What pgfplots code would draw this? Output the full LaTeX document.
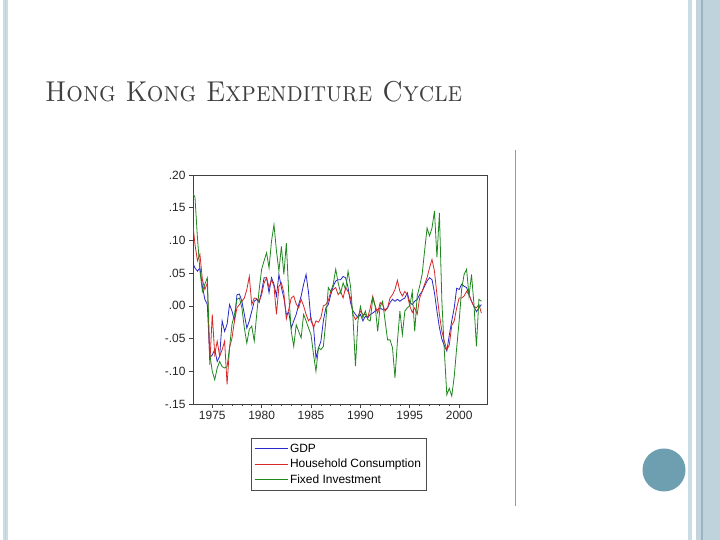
\documentclass[border=0pt]{standalone}
\usepackage{fontspec}
\usepackage{pgfplots}
\pgfplotsset{compat=1.18}
\usepackage{pgfplotstable}
\newfontfamily\arial{Liberation Sans}
\definecolor{gdpblue}{RGB}{40,40,200}
\definecolor{hcred}{RGB}{215,40,40}
\definecolor{figreen}{RGB}{30,135,30}
\definecolor{titlegray}{RGB}{64,64,64}
\definecolor{edgeA}{RGB}{202,221,228}
\definecolor{edgeB}{RGB}{195,212,220}
\definecolor{edgeC}{RGB}{155,181,192}
\definecolor{edgeD}{RGB}{190,211,219}
\definecolor{circ}{RGB}{110,159,176}

\pgfplotstableread{
t gdp hc fi
1973.00 0.066 0.130 0.173
1973.25 0.058 0.094 0.166
1973.50 0.053 0.069 0.104
1973.75 0.058 0.079 0.054
1974.00 0.030 0.040 0.022
1974.25 0.010 0.025 0.033
1974.50 0.002 0.035 0.043
1974.75 -0.079 -0.090 -0.074
1975.00 -0.075 -0.013 -0.100
1975.25 -0.067 -0.074 -0.113
1975.50 -0.085 -0.054 -0.095
1975.75 -0.077 -0.077 -0.085
1976.00 -0.023 -0.067 -0.093
1976.25 -0.039 -0.054 -0.095
1976.50 -0.028 -0.120 -0.093
1976.75 0.002 -0.064 -0.064
1977.00 -0.008 -0.049 -0.028
1977.25 -0.023 -0.023 -0.013
1977.50 0.017 -0.003 0.010
1977.75 0.018 0.002 0.012
1978.00 0.007 0.007 -0.003
1978.25 -0.013 0.012 -0.034
1978.50 -0.034 0.025 -0.057
1978.75 -0.023 0.045 -0.036
1979.00 -0.008 0.002 -0.031
1979.25 0.007 0.012 -0.054
1979.50 0.010 0.011 -0.013
1979.75 0.005 0.007 0.025
1980.00 0.022 0.017 0.056
1980.25 0.043 0.035 0.069
1980.50 0.043 0.043 0.081
1980.75 0.020 0.028 0.058
1981.00 0.043 0.040 0.099
1981.25 0.033 0.030 0.124
1981.50 0.015 -0.013 0.084
1981.75 0.048 0.030 0.053
1982.00 0.028 0.035 0.091
1982.25 0.012 0.020 0.048
1982.50 -0.013 -0.020 0.096
1982.75 -0.010 -0.005 0.017
1983.00 -0.034 0.012 -0.039
1983.25 -0.023 0.015 -0.062
1983.50 -0.013 0.003 -0.029
1983.75 0.002 -0.003 -0.039
1984.00 0.015 0.010 -0.049
1984.25 0.033 0.000 -0.013
1984.50 0.048 -0.013 -0.023
1984.75 0.020 -0.023 -0.034
1985.00 -0.023 -0.018 -0.044
1985.25 -0.031 -0.034 -0.074
1985.50 -0.080 -0.023 -0.100
1985.75 -0.065 -0.025 -0.064
1986.00 -0.054 -0.018 -0.067
1986.25 -0.023 0.000 -0.062
1986.50 -0.003 0.002 -0.023
1986.75 0.002 0.008 0.028
1987.00 0.017 0.022 0.022
1987.25 0.030 0.025 0.033
1987.50 0.038 0.028 0.056
1987.75 0.040 0.017 0.035
1988.00 0.040 0.022 0.020
1988.25 0.045 0.012 0.035
1988.50 0.043 0.028 0.025
1988.75 0.028 0.022 0.053
1989.00 0.005 0.012 0.030
1989.25 -0.008 -0.013 -0.018
1989.50 -0.013 -0.021 -0.092
1989.75 -0.018 -0.016 -0.023
1990.00 -0.013 -0.008 -0.001
1990.25 -0.023 -0.013 -0.018
1990.50 -0.016 -0.013 -0.008
1990.75 -0.018 -0.018 -0.021
1991.00 -0.013 -0.003 -0.023
1991.25 -0.011 0.015 0.012
1991.50 -0.008 0.000 -0.001
1991.75 -0.006 -0.011 -0.039
1992.00 -0.003 0.005 -0.001
1992.25 -0.006 0.002 0.007
1992.50 -0.006 -0.008 -0.023
1992.75 -0.003 -0.003 -0.052
1993.00 0.005 0.012 -0.052
1993.25 0.010 0.017 -0.064
1993.50 0.007 0.025 -0.110
1993.75 0.010 0.039 -0.054
1994.00 0.007 0.022 -0.008
1994.25 0.010 0.015 -0.044
1994.50 0.012 0.022 -0.008
1994.75 0.020 0.017 -0.003
1995.00 0.005 0.000 0.000
1995.25 0.002 -0.010 0.022
1995.50 0.007 -0.003 -0.039
1995.75 0.010 -0.013 0.015
1996.00 0.017 0.012 0.030
1996.25 0.022 0.022 0.048
1996.50 0.030 0.033 0.084
1996.75 0.038 0.043 0.119
1997.00 0.043 0.058 0.107
1997.25 0.040 0.071 0.119
1997.50 0.020 0.053 0.145
1997.75 -0.008 0.017 0.074
1998.00 -0.033 -0.013 0.142
1998.25 -0.051 -0.039 0.007
1998.50 -0.061 -0.054 -0.069
1998.75 -0.069 -0.067 -0.136
1999.00 -0.045 -0.060 -0.126
1999.25 -0.023 -0.030 -0.138
1999.50 -0.003 -0.023 -0.108
1999.75 0.027 -0.003 -0.064
2000.00 0.025 0.012 -0.023
2000.25 0.033 0.012 0.025
2000.50 0.030 0.015 0.048
2000.75 0.028 0.022 0.056
2001.00 0.017 0.017 0.015
2001.25 0.007 0.007 0.048
2001.50 -0.001 -0.001 0.002
2001.75 -0.009 -0.003 -0.062
2002.00 -0.003 0.002 0.010
2002.25 0.002 -0.011 0.007
}\datatable

\begin{document}
\begin{tikzpicture}[x=1bp,y=1bp]
\path[use as bounding box] (0,0) rectangle (720,540);
\fill[white] (0,0) rectangle (720,540);
% slide decorations
\fill[edgeA] (3,0) rectangle (8,540);
\draw[edgeC!60, line width=0.5bp] (5.5,0) -- (5.5,540);
\fill[edgeA] (688,0) rectangle (692,540);
\fill[edgeB] (696,0) rectangle (701,540);
\fill[edgeC] (701,0) rectangle (703,540);
\fill[edgeD] (703,0) rectangle (720,540);
\fill[circ] (664,70) circle (21.5);
\draw[black!40, line width=0.9bp] (515,34) -- (515,390);
\node[anchor=base west, inner sep=0pt, text=titlegray, yscale=1.1, transform shape, font=\fontsize{26.2}{31}\selectfont] at (45,438) {\textsc{Hong Kong Expenditure Cycle}};

\begin{axis}[
  at={(193bp,136bp)}, anchor=south west,
  scale only axis, width=294bp, height=229bp,
  xmin=1973.05, xmax=2002.82, ymin=-0.15, ymax=0.20,
  xtick={1975,1980,1985,1990,1995,2000},
  xticklabels={1975,1980,1985,1990,1995,2000},
  minor x tick num=4,
  ytick={-0.15,-0.10,-0.05,0,0.05,0.10,0.15,0.20},
  yticklabels={-.15,-.10,-.05,.00,.05,.10,.15,.20},
  tick pos=left, tick align=outside,
  major tick length=4bp, minor tick length=2.5bp,
  tick label style={font=\arial\fontsize{12}{14}\selectfont, text=black!85},
  axis line style={black!75, line width=0.8bp},
  every tick/.style={black!75, line width=0.6bp},
  no markers,
  legend style={at={(0.197,-0.148)}, anchor=north west, draw=black!70,
    line width=0.6bp, font=\arial\fontsize{12}{13}\selectfont,
    inner xsep=3bp, inner ysep=3.5bp, row sep=1.5bp},
  legend cell align=left,
  legend image code/.code={\path (0bp,0bp) -- (33bp,0bp); \draw[#1, line width=0.8bp] (2.5bp,0bp) -- (30.5bp,0bp);},
]
\addplot[gdpblue, line width=0.8bp] table[x=t, y=gdp]{\datatable};
\addlegendentry{GDP}
\addplot[hcred, line width=0.8bp] table[x=t, y=hc]{\datatable};
\addlegendentry{Household Consumption}
\addplot[figreen, line width=0.8bp] table[x=t, y=fi]{\datatable};
\addlegendentry{Fixed Investment}
\end{axis}
\end{tikzpicture}
\end{document}
